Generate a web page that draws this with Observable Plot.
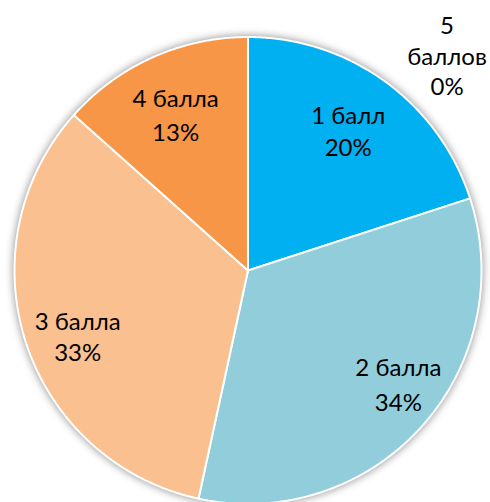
<!DOCTYPE html>
<html>
<head>
<meta charset="utf-8">
<script src="https://cdn.jsdelivr.net/npm/d3@7"></script>
<script src="https://cdn.jsdelivr.net/npm/@observablehq/plot@0.6"></script>
<style>
  html, body { margin: 0; padding: 0; background: #fff; }
  #chart { width: 490px; height: 502px; }
</style>
</head>
<body>
<div id="chart"></div>
<script>
// ---- data ----
const categories = ["1 балл", "2 балла", "3 балла", "4 балла", "5 баллов"];
const shares = [20.0, 33.4, 33.2, 13.4, 0.0];          // slice sizes (%)
const percentLabels = ["20%", "34%", "33%", "13%", "0%"];
const colors = ["#00B0F0", "#92CDDC", "#FAC090", "#F79646", "#4F81BD"];

// ---- layout ----
const W = 490, H = 502;
const cx = 247.5, cy = 270, R = 233.5;
const labelRadius = [0.73, 0.812, 0.785, 0.73, 1.25];   // fraction of R
const labelAngleShift = [0, -4.6, -3.7, -1.0, 43.0];   // degrees
const lineGap = [32.4, 34.5, 31.0, 33.3, 30.5];
const wrapName = [false, false, false, false, true];

const total = d3.sum(shares);
const rad = d => d * Math.PI / 180;

// slice polygons
const slicePts = [];
const labelRows = [];
let acc = 0;
categories.forEach((name, i) => {
  const a0 = acc / total * 360;
  const a1 = (acc + shares[i]) / total * 360;
  acc += shares[i];
  if (shares[i] > 0) {
    slicePts.push({name, x: cx, y: cy});
    const n = Math.max(2, Math.ceil((a1 - a0) / 0.5));
    for (let k = 0; k <= n; k++) {
      const a = rad(a0 + (a1 - a0) * k / n);
      slicePts.push({name, x: cx + R * Math.sin(a), y: cy - R * Math.cos(a)});
    }
  }
  const mid = rad((a0 + a1) / 2 + labelAngleShift[i]);
  const lx = cx + R * labelRadius[i] * Math.sin(mid);
  const ly = cy - R * labelRadius[i] * Math.cos(mid);
  const lines = (wrapName[i] ? name.split(" ") : [name]).concat([percentLabels[i]]);
  lines.forEach((t, j) => {
    labelRows.push({text: t, x: lx, y: ly + (j - (lines.length - 1) / 2) * lineGap[i]});
  });
});

const chart = Plot.plot({
  width: W,
  height: H,
  margin: 0,
  x: {domain: [0, W], range: [0, W], axis: null},
  y: {domain: [0, H], range: [0, H], axis: null},
  color: {domain: categories, range: colors},
  style: {background: "white", overflow: "visible"},
  marks: [
    Plot.line(slicePts, {
      x: "x", y: "y", z: "name", fill: "name",
      stroke: "white", strokeWidth: 2, strokeLinejoin: "round",
      curve: "linear-closed"
    }),
    Plot.text(labelRows, {
      x: "x", y: "y", text: "text",
      fontSize: 24, fill: "#000",
      fontFamily: "Lato, 'Open Sans', sans-serif",
      textAnchor: "middle"
    })
  ]
});

chart.querySelectorAll('g[aria-label="line"]').forEach(g => {
  g.style.filter = "drop-shadow(0px 0px 4px rgba(0,0,0,0.45))";
});

document.getElementById("chart").appendChild(chart);
</script>
</body>
</html>
